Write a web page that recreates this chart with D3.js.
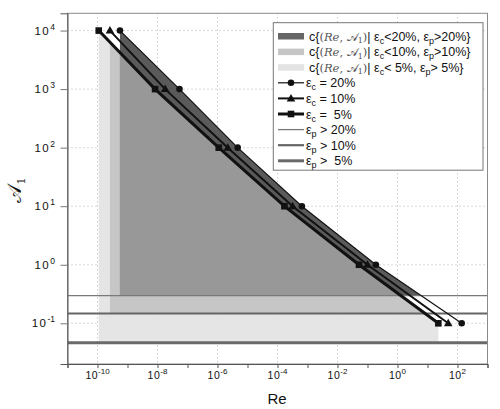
<!DOCTYPE html>
<html><head><meta charset="utf-8">
<script src="https://cdn.jsdelivr.net/npm/d3@7"></script>
<style>body{margin:0;background:#fff}svg{display:block}text{font-family:"Liberation Sans",Arial,Helvetica,sans-serif}</style>
</head><body><svg id="c" width="500" height="409"></svg>
<script>
// ---- data ----
const A1 = [1e4, 1e3, 1e2, 1e1, 1e0, 1e-1];
const reEc20 = [5.6e-10, 5.4e-8, 4.7e-6, 6.5e-4, 0.19, 138];
const reEc10 = [2.6e-10, 1.8e-8, 2.2e-6, 3.2e-4, 0.10, 49];
const reEc5  = [1.1e-10, 8.3e-9, 1.1e-6, 1.7e-4, 5.2e-2, 23];
const epLevels = [0.296, 0.147, 0.0465]; // eps_p > 20%, 10%, 5%
const xTicks = d3.range(-11, 4);
const yTicks = d3.range(-1, 5);

const svg = d3.select("#c");
const L = 67.5, R = 487.5, T = 13.3, B = 364;
const x = d3.scaleLog().domain([1e-11, 1e3]).range([L, R]);
const y = d3.scaleLog().domain([Math.pow(10, -1.695), Math.pow(10, 4.295)]).range([B, T]);

// grid
const g = svg.append("g");
g.selectAll(".hg").data(yTicks).join("line")
  .attr("x1", L).attr("x2", R).attr("y1", d => y(Math.pow(10, d))).attr("y2", d => y(Math.pow(10, d)))
  .attr("stroke", "#b5b5b5").attr("stroke-dasharray", "1,3");
g.selectAll(".vg").data(xTicks.filter(d => d % 2 === 0)).join("line")
  .attr("y1", T).attr("y2", B).attr("x1", d => x(Math.pow(10, d))).attr("x2", d => x(Math.pow(10, d)))
  .attr("stroke", "#b5b5b5").attr("stroke-dasharray", "1,3");

// clip paths
const defs = svg.append("defs");
function underPoly(res) {
  const pts = res.map((r, i) => [x(r), y(A1[i])]);
  const last = pts[pts.length - 1];
  pts.push([last[0], B + 5]);
  pts.push([L - 5, B + 5]);
  pts.push([L - 5, pts[0][1]]);
  return pts.map(p => p.join(",")).join(" ");
}
defs.append("clipPath").attr("id", "cSq").append("polygon").attr("points", underPoly(reEc5));
defs.append("clipPath").attr("id", "cCi").append("polygon").attr("points", underPoly(reEc20));

function region(re0, ep, fill, clip, op) {
  svg.append("rect")
    .attr("x", x(re0)).attr("y", y(A1[0]))
    .attr("width", R - x(re0)).attr("height", y(ep) - y(A1[0]))
    .attr("fill", fill).attr("fill-opacity", op || 1).attr("clip-path", "url(#" + clip + ")");
}
region(reEc5[0], epLevels[2], "#e3e3e3", "cSq", 0.92);
region(reEc10[0], epLevels[1], "#c6c6c6", "cSq");
region(reEc20[0], epLevels[0], "#5a5a5a", "cCi");
region(reEc20[0], epLevels[0], "#989898", "cSq");

// eps_p horizontal lines
const epStyle = [{w: 1.3, c: "#7a7a7a"}, {w: 2.2, c: "#666"}, {w: 3, c: "#6a6a6a"}];
epLevels.forEach((e, i) => {
  svg.append("line").attr("x1", L).attr("x2", R).attr("y1", y(e)).attr("y2", y(e))
    .attr("stroke", epStyle[i].c).attr("stroke-width", epStyle[i].w);
});

// frame
svg.append("rect").attr("x", L).attr("y", T).attr("width", R - L).attr("height", B - T)
  .attr("fill", "none").attr("stroke", "#8a8a8a").attr("stroke-width", 1);

// series lines
const series = [
  {re: reEc20, w: 1.2, m: "circle"},
  {re: reEc10, w: 2, m: "triangle"},
  {re: reEc5, w: 3, m: "square"}
];
const line = d3.line().x(d => x(d[0])).y(d => y(d[1]));
function marker(sel, type, cx, cy) {
  if (type === "circle") sel.append("circle").attr("cx", cx).attr("cy", cy).attr("r", 3.3).attr("fill", "#111");
  else if (type === "triangle") sel.append("path").attr("d", `M${cx},${cy-4.5}L${cx+4.3},${cy+3}L${cx-4.3},${cy+3}Z`).attr("fill", "#111");
  else sel.append("rect").attr("x", cx - 3.3).attr("y", cy - 3.3).attr("width", 6.6).attr("height", 6.6).attr("fill", "#111");
}
series.forEach(s => {
  const d = s.re.map((r, i) => [r, A1[i]]);
  svg.append("path").attr("d", line(d)).attr("fill", "none").attr("stroke", "#111").attr("stroke-width", s.w);
  d.forEach(p => marker(svg, s.m, x(p[0]), y(p[1])));
});

// axes
const xAxis = svg.append("g").attr("transform", `translate(0,${B})`)
  .call(d3.axisBottom(x).tickValues(xTicks.map(d => Math.pow(10, d))).tickSize(4).tickFormat(""));
xAxis.select(".domain").attr("stroke", "#555");
xAxis.selectAll(".tick line").attr("stroke", "#555");
xTicks.filter(d => d % 2 === 0).forEach(d => {
  const t = svg.append("text").attr("x", x(Math.pow(10, d))).attr("y", B + 14.5)
    .attr("text-anchor", "middle").attr("font-size", 10.5).attr("fill", "#111");
  t.append("tspan").text("10").attr("letter-spacing", 0.5);
  t.append("tspan").text(d).attr("font-size", 8).attr("dy", -5);
});
const yAxis = svg.append("g").attr("transform", `translate(${L},0)`)
  .call(d3.axisLeft(y).tickValues(yTicks.map(d => Math.pow(10, d))).tickSize(7).tickFormat(""));
yAxis.select(".domain").attr("stroke", "#555");
yAxis.selectAll(".tick line").attr("stroke", "#777");
yTicks.forEach(d => {
  const t = svg.append("text").attr("x", 55).attr("y", y(Math.pow(10, d)) + 4)
    .attr("text-anchor", "end").attr("font-size", 11.5).attr("fill", "#111");
  t.append("tspan").text("10").attr("letter-spacing", 1.5);
  t.append("tspan").text(d).attr("font-size", 8.5).attr("dy", -5);
});

// axis titles
svg.append("text").attr("x", 277).attr("y", 404).attr("text-anchor", "middle")
  .attr("font-size", 15).attr("fill", "#111").text("Re");
const yt = svg.append("text").attr("transform", "translate(21,190) rotate(-90)")
  .attr("text-anchor", "middle").attr("font-size", 19).attr("fill", "#111")
  .style("font-family", "'DejaVu Serif',serif");
yt.append("tspan").text("𝒜");
yt.append("tspan").text("1").attr("font-size", 11).attr("dy", 4);

// legend
const lg = svg.append("g");
lg.append("rect").attr("x", 273.3).attr("y", 22.7).attr("width", 209.7).attr("height", 147.5)
  .attr("fill", "#fff").attr("stroke", "#777").attr("stroke-width", 1);
const rowY = i => 36 + i * 15.6;
const fills = ["#666", "#c6c6c6", "#e3e3e3"];
const ecTxt = ["20%", "10%", " 5%"];
const regTxt = [["<20%", ">20%"], ["<10%", ">10%"], ["< 5%", "> 5%"]];
function eps(t, sub) {
  t.append("tspan").text("ε");
  t.append("tspan").text(sub).attr("font-size", 9).attr("dy", 3);
}
for (let i = 0; i < 3; i++) {
  lg.append("rect").attr("x", 278).attr("y", rowY(i) - 3).attr("width", 26).attr("height", 6.5).attr("fill", fills[i]);
  const t = lg.append("text").attr("x", 309).attr("y", rowY(i) + 4.5).attr("font-size", 12.5).attr("fill", "#111")
    .attr("xml:space", "preserve");
  t.append("tspan").text("c{");
  const s = t.append("tspan").style("font-family", "'DejaVu Serif','Liberation Serif',serif").attr("fill", "#555").attr("font-size", 11.5);
  s.append("tspan").text("(");
  s.append("tspan").text("Re").attr("font-style", "italic");
  s.append("tspan").text(", 𝒜");
  s.append("tspan").text("1").attr("font-size", 8).attr("dy", 2.5);
  s.append("tspan").text(")").attr("dy", -2.5);
  t.append("tspan").text("| ");
  eps(t, "c");
  t.append("tspan").text(regTxt[i][0] + ", ").attr("dy", -3);
  eps(t, "p");
  t.append("tspan").text(regTxt[i][1] + "}").attr("dy", -3);
}
series.forEach((s, k) => {
  const i = 3 + k;
  lg.append("line").attr("x1", 278).attr("x2", 304).attr("y1", rowY(i)).attr("y2", rowY(i))
    .attr("stroke", "#111").attr("stroke-width", s.w);
  marker(lg, s.m, 291, rowY(i));
  const t = lg.append("text").attr("x", 306).attr("y", rowY(i) + 4.5).attr("font-size", 12.5).attr("fill", "#111")
    .attr("xml:space", "preserve");
  eps(t, "c");
  t.append("tspan").text(" = " + ecTxt[k]).attr("dy", -3);
});
const epLab = ["20%", "10%", " 5%"];
epStyle.forEach((st, k) => {
  const i = 6 + k;
  lg.append("line").attr("x1", 278).attr("x2", 304).attr("y1", rowY(i)).attr("y2", rowY(i))
    .attr("stroke", st.c).attr("stroke-width", st.w);
  const t = lg.append("text").attr("x", 306).attr("y", rowY(i) + 4.5).attr("font-size", 12.5).attr("fill", "#111")
    .attr("xml:space", "preserve");
  eps(t, "p");
  t.append("tspan").text(" > " + epLab[k]).attr("dy", -3);
});
</script></body></html>
